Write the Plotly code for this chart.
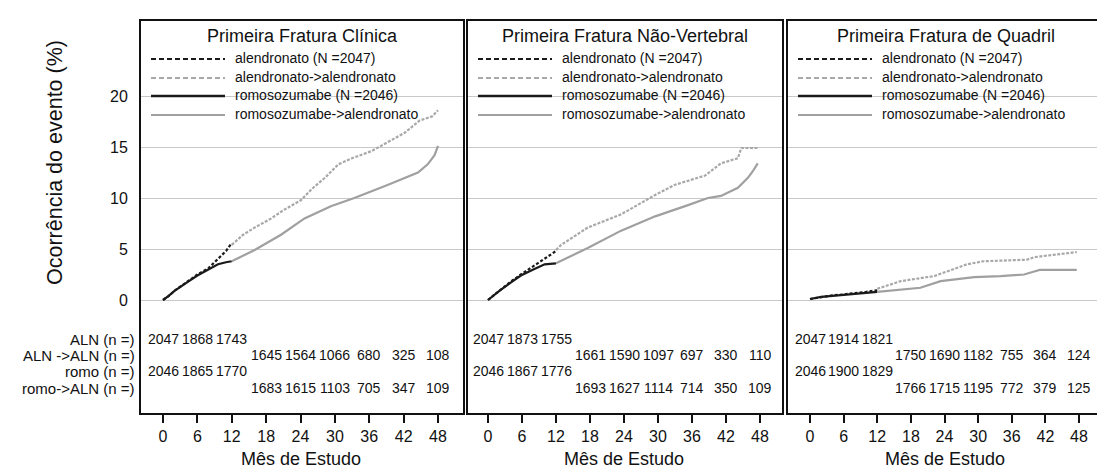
import plotly.graph_objects as go

W, H = 1105, 468
FONT = "Liberation Sans, Arial, Helvetica, sans-serif"

# ---------------- data ----------------
panel_titles = ["Primeira Fratura Clínica", "Primeira Fratura Não-Vertebral", "Primeira Fratura de Quadril"]
series_names = ["alendronato (N =2047)", "alendronato->alendronato", "romosozumabe (N =2046)", "romosozumabe->alendronato"]

# Panel 1: Primeira Fratura Clínica
p1_aln_x = [0, 1, 2, 3, 4.4, 6, 7.9, 9, 10.1, 11, 12]
p1_aln_y = [0, 0.4, 0.9, 1.3, 1.85, 2.5, 3.1, 3.7, 4.4, 4.8, 5.6]
p1_alnaln_x = [12, 14, 16, 18.9, 21, 24.1, 26, 28.3, 30.6, 33, 36.4, 39.3, 42.2, 44.8, 46, 47, 48]
p1_alnaln_y = [5.4, 6.4, 7.1, 8.0, 8.8, 9.8, 10.9, 12.0, 13.3, 13.9, 14.6, 15.5, 16.4, 17.6, 17.8, 18.0, 18.6]
p1_romo_x = [0, 1, 2, 3, 4.4, 6, 7.9, 9.6, 11, 12]
p1_romo_y = [0, 0.4, 0.9, 1.3, 1.8, 2.4, 3.0, 3.5, 3.7, 3.8]
p1_romoaln_x = [12, 16, 20.6, 24.7, 29.3, 33.4, 39.3, 42.2, 44.5, 46.2, 47.4, 48]
p1_romoaln_y = [3.8, 4.9, 6.4, 8.0, 9.2, 10.0, 11.3, 12.0, 12.5, 13.3, 14.2, 15.1]

# Panel 2: Primeira Fratura Não-Vertebral
p2_aln_x = [0, 2, 4, 5.8, 8, 10, 12]
p2_aln_y = [0, 0.9, 1.8, 2.5, 3.3, 4.0, 4.8]
p2_alnaln_x = [12, 12.9, 17.6, 23.5, 29.5, 33, 38.3, 41.1, 44.1, 44.7, 47.6]
p2_alnaln_y = [4.9, 5.4, 7.1, 8.4, 10.3, 11.3, 12.2, 13.4, 13.9, 14.9, 14.9]
p2_romo_x = [0, 2, 4, 5.8, 8, 10, 12]
p2_romo_y = [0, 0.9, 1.7, 2.4, 3.0, 3.5, 3.6]
p2_romoaln_x = [12, 17.6, 23.5, 29.5, 35.3, 38.8, 41.1, 44.1, 45.9, 46.7, 47.6]
p2_romoaln_y = [3.6, 5.1, 6.8, 8.2, 9.3, 10.0, 10.2, 11.0, 12.0, 12.6, 13.4]

# Panel 3: Primeira Fratura de Quadril
p3_aln_x = [0, 2, 4, 6, 8, 10, 12]
p3_aln_y = [0.1, 0.3, 0.45, 0.55, 0.65, 0.8, 0.95]
p3_alnaln_x = [12, 16.2, 22.2, 28, 31, 38.7, 40, 44, 47.6]
p3_alnaln_y = [1.1, 1.85, 2.35, 3.5, 3.8, 3.95, 4.2, 4.45, 4.7]
p3_romo_x = [0, 2, 4, 6, 8, 10, 12]
p3_romo_y = [0.1, 0.3, 0.4, 0.5, 0.6, 0.7, 0.8]
p3_romoaln_x = [12, 19.7, 23.3, 29.3, 34, 38.2, 40, 41, 47.6]
p3_romoaln_y = [0.8, 1.2, 1.85, 2.25, 2.35, 2.5, 2.8, 2.95, 2.95]

# At-risk table
risk_labels = ["ALN (n =)", "ALN ->ALN (n =)", "romo (n =)", "romo->ALN (n =)"]
risk_months_first = [0, 6, 12]
risk_months_second = [18, 24, 30, 36, 42, 48]
p1_risk = [[2047, 1868, 1743], [1645, 1564, 1066, 680, 325, 108], [2046, 1865, 1770], [1683, 1615, 1103, 705, 347, 109]]
p2_risk = [[2047, 1873, 1755], [1661, 1590, 1097, 697, 330, 110], [2046, 1867, 1776], [1693, 1627, 1114, 714, 350, 109]]
p3_risk = [[2047, 1914, 1821], [1750, 1690, 1182, 755, 364, 124], [2046, 1900, 1829], [1766, 1715, 1195, 772, 379, 125]]

x_ticks = [0, 6, 12, 18, 24, 30, 36, 42, 48]
y_ticks = [0, 5, 10, 15, 20]

# ---------------- styles / layout ----------------
curve_styles = [
    dict(color="#1a1a1a", width=2.2, dash="3px,2px"),
    dict(color="#a8a8a8", width=2.2, dash="3px,1.5px"),
    dict(color="#1a1a1a", width=2.2, dash="solid"),
    dict(color="#a0a0a0", width=2.2, dash="solid"),
]
legend_styles = [
    dict(color="#1a1a1a", width=2.2, dash="5px,3px"),
    dict(color="#a8a8a8", width=2.2, dash="5px,3px"),
    dict(color="#1a1a1a", width=2.4, dash="solid"),
    dict(color="#a0a0a0", width=2.2, dash="solid"),
]

panels = [
    dict(left=133, right=455, zero=155, end48=430,
         curves=[(p1_aln_x, p1_aln_y), (p1_alnaln_x, p1_alnaln_y), (p1_romo_x, p1_romo_y), (p1_romoaln_x, p1_romoaln_y)],
         risk=p1_risk),
    dict(left=460, right=774, zero=480, end48=752,
         curves=[(p2_aln_x, p2_aln_y), (p2_alnaln_x, p2_alnaln_y), (p2_romo_x, p2_romo_y), (p2_romoaln_x, p2_romoaln_y)],
         risk=p2_risk),
    dict(left=780, right=1095, zero=802, end48=1071,
         curves=[(p3_aln_x, p3_aln_y), (p3_alnaln_x, p3_alnaln_y), (p3_romo_x, p3_romo_y), (p3_romoaln_x, p3_romoaln_y)],
         risk=p3_risk),
]

TOP, BOTTOM = 13, 405
Y0_PX, PX_PER_UNIT = 292, 10.2
y_range = [-(BOTTOM - Y0_PX) / PX_PER_UNIT, (Y0_PX - TOP) / PX_PER_UNIT]
risk_row_px = [331, 347, 363, 380]
risk_row_y = [-(p - Y0_PX) / PX_PER_UNIT for p in risk_row_px]


def pxx(x):
    return x / W


def pxy(y):
    return 1 - y / H


fig = go.Figure()
annotations = []
shapes = []

for i, p in enumerate(panels):
    n = i + 1
    xa = "x" if n == 1 else f"x{n}"
    ya = "y" if n == 1 else f"y{n}"
    ppm = (p["end48"] - p["zero"]) / 48.0
    xr = [-(p["zero"] - p["left"]) / ppm, 48 + (p["right"] - p["end48"]) / ppm]

    for (cx, cy), st, name in zip(p["curves"], curve_styles, series_names):
        fig.add_trace(go.Scatter(x=cx, y=cy, mode="lines", line=st, name=name,
                                 showlegend=False, xaxis=xa, yaxis=ya, hoverinfo="skip"))

    axis_common = dict(showline=True, mirror=True, linecolor="#111", linewidth=2,
                       zeroline=False, fixedrange=True)
    fig.layout[f"xaxis{'' if n == 1 else n}"] = dict(
        domain=[pxx(p["left"]), pxx(p["right"])], range=xr, anchor=ya,
        tickvals=x_ticks, ticks="outside", ticklen=8, tickwidth=2, tickcolor="#111",
        showgrid=False, tickfont=dict(family=FONT, size=16, color="#111"), **axis_common)
    fig.layout[f"yaxis{'' if n == 1 else n}"] = dict(
        domain=[pxy(BOTTOM), pxy(TOP)], range=y_range, anchor=xa,
        tickvals=y_ticks, ticks="", showticklabels=(n == 1), ticklabelstandoff=8,
        showgrid=True, gridcolor="#c8c8c8", gridwidth=1.3,
        tickfont=dict(family=FONT, size=16, color="#111"), **axis_common)

    # panel title
    cx_px = (p["left"] + p["right"]) / 2
    annotations.append(dict(text=panel_titles[i], x=pxx(cx_px), y=pxy(28), xref="paper", yref="paper",
                            showarrow=False, xanchor="center", yanchor="middle",
                            font=dict(family=FONT, size=18, color="#111")))
    # legend
    for k, (name, st) in enumerate(zip(series_names, legend_styles)):
        ly = [51, 70, 88, 107][k]
        shapes.append(dict(type="line", xref="paper", yref="paper",
                           x0=pxx(p["left"] + 10), x1=pxx(p["left"] + 84), y0=pxy(ly), y1=pxy(ly),
                           line=dict(color=st["color"], width=st["width"], dash=st["dash"])))
        annotations.append(dict(text=name, x=pxx(p["left"] + 92), y=pxy(ly - 1), xref="paper", yref="paper",
                                showarrow=False, xanchor="left", yanchor="middle",
                                font=dict(family=FONT, size=14, color="#111")))
    # at-risk numbers
    for r, vals in enumerate(p["risk"]):
        months = risk_months_first if r in (0, 2) else risk_months_second
        for m, v in zip(months, vals):
            annotations.append(dict(text=str(v), x=m, y=risk_row_y[r], xref=xa, yref=ya,
                                    showarrow=False, xanchor="center", yanchor="middle",
                                    font=dict(family=FONT, size=14, color="#111")))
    # x axis title
    annotations.append(dict(text="Mês de Estudo", x=pxx((p["zero"] + p["end48"]) / 2), y=pxy(451),
                            xref="paper", yref="paper", showarrow=False, xanchor="center", yanchor="middle",
                            borderpad=0, font=dict(family=FONT, size=18, color="#111")))

# at-risk row labels
for r, lab in enumerate(risk_labels):
    annotations.append(dict(text=lab, x=pxx(129), y=pxy(risk_row_px[r]), xref="paper", yref="paper",
                            showarrow=False, xanchor="right", yanchor="middle",
                            font=dict(family=FONT, size=15, color="#111")))

# y axis title
annotations.append(dict(text="Ocorrência do evento (%)", x=pxx(47), y=pxy(155), xref="paper", yref="paper",
                        showarrow=False, textangle=-90, xanchor="center", yanchor="middle",
                        font=dict(family=FONT, size=21.5, color="#111")))
# side code
annotations.append(dict(text="GRH2382PT v1", x=pxx(1093), y=pxy(367), xref="paper", yref="paper",
                        showarrow=False, textangle=-90, xanchor="center", yanchor="middle",
                        borderpad=0, font=dict(family=FONT, size=8, color="#333")))

fig.update_layout(width=W, height=H, margin=dict(l=0, r=0, t=0, b=0),
                  paper_bgcolor="white", plot_bgcolor="white",
                  annotations=annotations, shapes=shapes, showlegend=False)

fig.write_html("out.html")
